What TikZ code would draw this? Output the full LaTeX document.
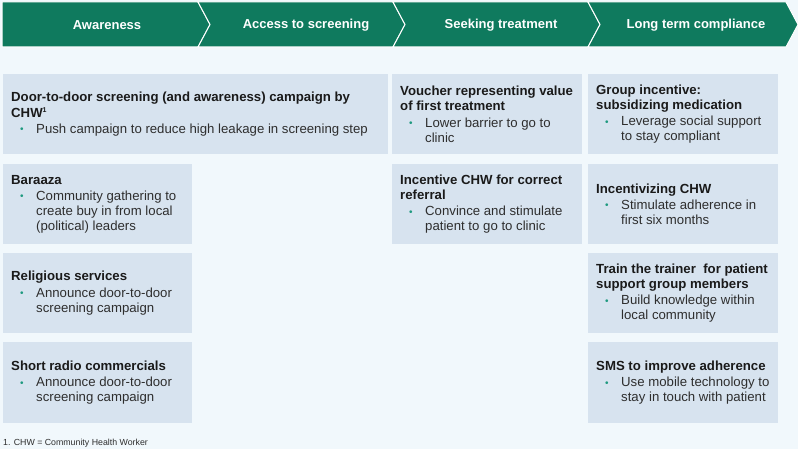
\documentclass[tikz,border=0pt]{standalone}
\usepackage{fontspec}
\setmainfont{Liberation Sans}
\usepackage{xcolor}
\definecolor{bgc}{HTML}{F1F8FC}
\definecolor{hdr}{HTML}{0F7A5E}
\definecolor{boxc}{HTML}{D7E3EF}
\definecolor{titc}{HTML}{1A1A1A}
\definecolor{txtc}{HTML}{2E2E2E}
\definecolor{bulc}{HTML}{1F9A80}
\newcommand\bl{\hspace*{9pt}\makebox[16pt][l]{\textcolor{bulc}{\raisebox{0.5pt}{\fontsize{10}{10}\selectfont\textbullet}}}}
\newcommand\ind{\hspace*{25pt}}
\begin{document}
\begin{tikzpicture}[x=1pt,y=-1pt,
  seg/.style={fill=hdr,draw=white,line width=1pt},
  hdrtext/.style={text=white,font=\fontsize{13}{15}\selectfont\bfseries,inner sep=0pt},
  cbox/.style={fill=boxc,draw=none,anchor=north west,inner sep=0pt},
  ctext/.style={anchor=west,align=left,inner sep=0pt,text=txtc,font=\fontsize{13.2}{15.2}\selectfont}
]
\useasboundingbox (0,0) rectangle (798,449);
\fill[bgc] (0,0) rectangle (798,449);
% header
\filldraw[seg] (2,2) -- (198,2) -- (210,24.5) -- (198,47) -- (2,47) -- cycle;
\filldraw[seg] (198,2) -- (393,2) -- (405,24.5) -- (393,47) -- (198,47) -- (210,24.5) -- cycle;
\filldraw[seg] (393,2) -- (588,2) -- (600,24.5) -- (588,47) -- (393,47) -- (405,24.5) -- cycle;
\filldraw[seg] (588,2) -- (786,2) -- (798,24.5) -- (786,47) -- (588,47) -- (600,24.5) -- cycle;
\node[hdrtext] (h1) at (107,25) {Awareness};
\node[hdrtext] (h2) at (306,25) {Access to screening};
\node[hdrtext] (h3) at (501,25) {Seeking treatment};
\node[hdrtext] (h4) at (696,25) {Long term compliance};
% boxes
\node[cbox,minimum width=385pt,minimum height=80pt] (b1) at (3,74) {};
\node[cbox,minimum width=189pt,minimum height=80pt] (b2) at (3,164) {};
\node[cbox,minimum width=189pt,minimum height=80pt] (b3) at (3,253) {};
\node[cbox,minimum width=189pt,minimum height=81pt] (b4) at (3,342) {};
\node[cbox,minimum width=190pt,minimum height=80pt] (c1) at (392,74) {};
\node[cbox,minimum width=190pt,minimum height=80pt] (c2) at (392,164) {};
\node[cbox,minimum width=190pt,minimum height=80pt] (d1) at (588,74) {};
\node[cbox,minimum width=190pt,minimum height=80pt] (d2) at (588,164) {};
\node[cbox,minimum width=190pt,minimum height=80pt] (d3) at (588,253) {};
\node[cbox,minimum width=190pt,minimum height=81pt] (d4) at (588,342) {};
% texts
\node[ctext] (tb1) at ([xshift=8pt]b1.west) {\textcolor{titc}{\textbf{Door-to-door screening (and awareness) campaign by}}\\
\textcolor{titc}{\textbf{CHW}{\fontsize{7}{7}\selectfont\raisebox{5pt}{\textbf{1}}}}\\[1pt]
\bl Push campaign to reduce high leakage in screening step};
\node[ctext] (tb2) at ([xshift=8pt]b2.west) {\textcolor{titc}{\textbf{Baraaza}}\\[1pt]
\bl Community gathering to\\ \ind create buy in from local\\ \ind (political) leaders};
\node[ctext] (tb3) at ([xshift=8pt]b3.west) {\textcolor{titc}{\textbf{Religious services}}\\[1pt]
\bl Announce door-to-door\\ \ind screening campaign};
\node[ctext] (tb4) at ([xshift=8pt]b4.west) {\textcolor{titc}{\textbf{Short radio commercials}}\\[1pt]
\bl Announce door-to-door\\ \ind screening campaign};
\node[ctext] (tc1) at ([xshift=8pt]c1.west) {\textcolor{titc}{\textbf{Voucher representing value}}\\
\textcolor{titc}{\textbf{of first treatment}}\\[1pt]
\bl Lower barrier to go to\\ \ind clinic};
\node[ctext] (tc2) at ([xshift=8pt]c2.west) {\textcolor{titc}{\textbf{Incentive CHW for correct}}\\
\textcolor{titc}{\textbf{referral}}\\[1pt]
\bl Convince and stimulate\\ \ind patient to go to clinic};
\node[ctext] (td1) at ([xshift=8pt]d1.west) {\textcolor{titc}{\textbf{Group incentive:}}\\
\textcolor{titc}{\textbf{subsidizing medication}}\\[1pt]
\bl Leverage social support\\ \ind to stay compliant};
\node[ctext] (td2) at ([xshift=8pt]d2.west) {\textcolor{titc}{\textbf{Incentivizing CHW}}\\[1pt]
\bl Stimulate adherence in\\ \ind first six months};
\node[ctext] (td3) at ([xshift=8pt]d3.west) {\textcolor{titc}{\textbf{Train the trainer\ \ for patient}}\\
\textcolor{titc}{\textbf{support group members}}\\[1pt]
\bl Build knowledge within\\ \ind local community};
\node[ctext] (td4) at ([xshift=8pt]d4.west) {\textcolor{titc}{\textbf{SMS to improve adherence}}\\[1pt]
\bl Use mobile technology to\\ \ind stay in touch with patient};
% footnote
\node[anchor=west,inner sep=0pt,text=txtc,font=\fontsize{8.8}{10}\selectfont] (fn) at (3,443) {1. CHW = Community Health Worker};
\end{tikzpicture}
\end{document}
